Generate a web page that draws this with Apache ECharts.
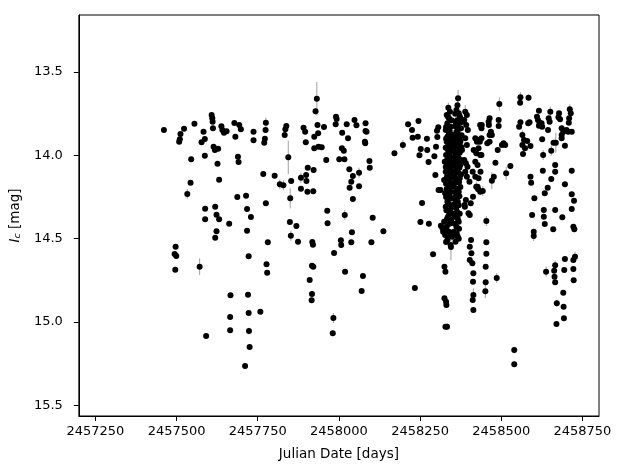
<!DOCTYPE html>
<html>
<head>
<meta charset="utf-8">
<script src="https://cdn.jsdelivr.net/npm/echarts@6/dist/echarts.min.js"></script>
<style>
  html, body { margin: 0; padding: 0; background: #fff; }
  #chart { width: 623px; height: 468px; }
</style>
</head>
<body>
<div id="chart"></div>
<script>
// [julian date, Ic magnitude, error] -- error left out where the bar hides behind the dot
const season2016 = [
  [2457461, 13.848], [2457512, 13.872], [2457510, 13.904], [2457508, 13.918], [2457523, 13.84],
  [2457555, 13.81], [2457583, 13.858], [2457577, 13.922], [2457587, 13.902], [2457608, 13.758],
  [2457610, 13.778], [2457611, 13.798], [2457612, 13.838], [2457638, 13.826], [2457641, 13.848],
  [2457646, 13.864], [2457654, 13.856], [2457678, 13.806], [2457681, 13.888], [2457614, 13.948],
  [2457618, 13.968], [2457628, 13.96], [2457545, 14.024], [2457587, 14.002], [2457626, 14.05],
  [2457689, 14.008], [2457691, 14.04], [2457543, 14.164], [2457533, 14.232, 0.03], [2457631, 14.146],
  [2457687, 14.25], [2457588, 14.32], [2457619, 14.308], [2457588, 14.384], [2457623, 14.356],
  [2457631, 14.384], [2457662, 14.41], [2457623, 14.456], [2457619, 14.494], [2457497, 14.548],
  [2457494, 14.592], [2457499, 14.604], [2457496, 14.686], [2457571, 14.668, 0.05], [2457666, 14.84],
  [2457665, 14.97], [2457665, 15.05], [2457591, 15.084], [2457693, 13.818], [2457698, 13.844],
  [2457714, 14.242], [2457717, 14.322], [2457729, 14.37], [2457717, 14.452], [2457722, 14.606],
  [2457720, 14.836], [2457722, 14.946], [2457723, 15.054, 0.02], [2457725, 15.15], [2457711, 15.264],
  [2457737, 13.858], [2457737, 13.91]
];

const season2017 = [
  [2457775, 13.804, 0.03], [2457774, 13.848], [2457772, 13.9], [2457770, 13.924], [2457838, 13.824],
  [2457835, 13.844], [2457833, 13.878], [2457891, 13.834], [2457896, 13.858], [2457898, 13.922],
  [2457924, 13.888], [2457924, 13.958], [2457928, 13.736, 0.02], [2457932, 13.66, 0.1], [2457934, 13.818],
  [2457936, 13.868], [2457937, 13.948], [2457767, 14.112], [2457802, 14.122], [2457818, 14.174, 0.03],
  [2457829, 14.18, 0.03], [2457844, 14.012, 0.1], [2457853, 14.154], [2457850, 14.258, 0.06], [2457883, 14.134, 0.03],
  [2457899, 14.118], [2457904, 14.074], [2457900, 14.154], [2457883, 14.2], [2457903, 14.218],
  [2457921, 14.216], [2457922, 14.088], [2457775, 14.288], [2457781, 14.522], [2457849, 14.4],
  [2457869, 14.424], [2457852, 14.482, 0.03], [2457874, 14.518], [2457918, 14.52], [2457920, 14.536],
  [2457777, 14.654], [2457779, 14.704], [2457917, 14.662], [2457921, 14.668], [2457910, 14.748],
  [2457917, 14.832], [2457916, 14.87], [2457758, 14.938], [2457947, 13.952], [2457954, 13.83],
  [2457961, 14.028], [2457991, 13.768], [2457993, 13.782], [2457990, 13.814], [2458024, 13.814],
  [2458010, 13.864], [2458028, 13.898], [2458048, 13.788], [2458054, 13.82], [2458082, 13.808],
  [2458082, 13.854], [2458085, 13.858], [2458080, 13.918], [2458081, 13.928], [2458009, 13.958],
  [2458015, 13.972], [2458001, 14.024], [2458017, 14.024], [2458032, 14.084], [2458043, 14.124],
  [2458062, 14.104, 0.03], [2458038, 14.158], [2458033, 14.194], [2458062, 14.186], [2458043, 14.262],
  [2458094, 14.034], [2458095, 14.074], [2457964, 14.332], [2457965, 14.408], [2458018, 14.358, 0.03],
  [2458104, 14.374], [2458137, 14.456], [2458040, 14.462], [2458038, 14.522], [2458006, 14.51],
  [2458007, 14.538], [2458100, 14.522], [2457985, 14.586], [2458019, 14.698], [2458074, 14.724],
  [2458070, 14.814], [2457983, 14.976, 0.03], [2457981, 15.068]
];

const season2018 = [
  [2458171, 13.988], [2458197, 13.938, 0.03], [2458213, 13.814], [2458225, 13.848], [2458227, 13.894],
  [2458243, 13.888], [2458245, 13.794], [2458252, 13.962], [2458248, 14.0], [2458272, 13.968],
  [2458271, 13.9], [2458276, 14.04], [2458294, 14.006], [2458299, 13.948], [2458303, 13.89],
  [2458302, 13.852], [2458306, 13.832], [2458297, 14.118], [2458307, 14.208], [2458313, 14.208],
  [2458256, 14.286], [2458251, 14.4], [2458277, 14.41], [2458290, 14.594], [2458234, 14.796],
  [2458314, 14.422], [2458321, 14.458],
  // the crowded stretch around JD 2458320-2458440
  [2458337, 13.714, 0.03], [2458332, 13.758], [2458339, 13.778], [2458334, 13.808], [2458344, 13.828],
  [2458329, 13.848], [2458339, 13.868], [2458334, 13.888], [2458346, 13.898], [2458332, 13.918],
  [2458341, 13.938], [2458349, 13.948], [2458336, 13.968], [2458330, 13.998], [2458344, 14.008],
  [2458338, 14.028], [2458326, 14.038], [2458334, 14.058], [2458344, 14.078], [2458329, 14.098],
  [2458339, 14.118], [2458349, 14.128], [2458324, 14.148], [2458336, 14.162], [2458344, 14.182],
  [2458332, 14.202], [2458327, 14.228], [2458339, 14.238], [2458349, 14.258], [2458334, 14.278],
  [2458329, 14.308], [2458342, 14.328], [2458349, 14.348], [2458336, 14.368], [2458324, 14.398],
  [2458344, 14.408], [2458332, 14.428], [2458319, 14.438], [2458339, 14.458], [2458327, 14.478],
  [2458349, 14.488], [2458334, 14.508], [2458344, 14.538], [2458345, 14.55, 0.08],
  [2458342, 13.738], [2458336, 13.768], [2458347, 13.79], [2458330, 13.83], [2458341, 13.852],
  [2458347, 13.875], [2458330, 13.9], [2458343, 13.91], [2458337, 13.93], [2458329, 13.955],
  [2458345, 13.975], [2458340, 13.99], [2458348, 14.02], [2458333, 14.03], [2458340, 14.045],
  [2458347, 14.06], [2458329, 14.07], [2458339, 14.09], [2458346, 14.105], [2458333, 14.125],
  [2458342, 14.145], [2458330, 14.17], [2458348, 14.17], [2458340, 14.195], [2458335, 14.215],
  [2458346, 14.22], [2458330, 14.25], [2458342, 14.26], [2458337, 14.29], [2458347, 14.3],
  [2458331, 14.33], [2458340, 14.35], [2458333, 14.38], [2458346, 14.385], [2458340, 14.41],
  [2458329, 14.45], [2458346, 14.47], [2458337, 14.49], [2458330, 14.52],
  [2458367, 13.658, 0.05], [2458362, 13.728], [2458369, 13.748], [2458374, 13.778], [2458359, 13.798],
  [2458366, 13.818], [2458376, 13.838], [2458362, 13.858], [2458369, 13.888], [2458356, 13.908],
  [2458374, 13.918], [2458364, 13.948], [2458379, 13.968], [2458359, 13.988], [2458369, 14.018],
  [2458354, 14.038], [2458374, 14.058], [2458364, 14.088], [2458356, 14.118], [2458372, 14.138],
  [2458362, 14.162], [2458354, 14.188], [2458369, 14.218], [2458359, 14.248], [2458366, 14.278],
  [2458354, 14.308], [2458364, 14.338], [2458356, 14.368], [2458369, 14.398], [2458362, 14.428],
  [2458354, 14.458], [2458366, 14.488], [2458359, 14.518],
  [2458365, 13.7, 0.03], [2458358, 13.75], [2458372, 13.765], [2458364, 13.79], [2458378, 13.8],
  [2458358, 13.825], [2458371, 13.84], [2458366, 13.87], [2458378, 13.88], [2458360, 13.89],
  [2458371, 13.905], [2458357, 13.93], [2458368, 13.935], [2458377, 13.95], [2458361, 13.965],
  [2458372, 13.985], [2458365, 14.0], [2458357, 14.015], [2458378, 14.03], [2458366, 14.045],
  [2458360, 14.065], [2458371, 14.075], [2458357, 14.095], [2458368, 14.105], [2458376, 14.115],
  [2458360, 14.14], [2458370, 14.16], [2458357, 14.165], [2458365, 14.2], [2458374, 14.19],
  [2458359, 14.22], [2458371, 14.245], [2458362, 14.27], [2458357, 14.29], [2458369, 14.3],
  [2458361, 14.315], [2458372, 14.35], [2458359, 14.35], [2458366, 14.38], [2458357, 14.41],
  [2458370, 14.44], [2458363, 14.47], [2458369, 14.5],
  [2458389, 13.738, 0.04], [2458394, 13.758], [2458386, 13.788], [2458392, 13.818], [2458397, 13.848],
  [2458389, 13.898], [2458394, 13.938], [2458386, 14.028], [2458391, 14.048], [2458396, 14.068],
  [2458389, 14.098], [2458394, 14.128], [2458402, 14.158], [2458387, 14.298], [2458399, 14.348],
  [2458391, 14.268], [2458388, 14.308], [2458406, 14.288], [2458413, 14.248], [2458403, 14.358],
  [2458435, 13.818], [2458420, 13.898], [2458425, 13.918], [2458415, 13.968], [2458423, 13.988],
  [2458430, 13.958], [2458435, 13.998], [2458420, 14.038], [2458427, 14.058], [2458412, 14.098],
  [2458420, 14.128], [2458430, 14.138], [2458423, 14.188, 0.03], [2458435, 14.218],
  [2458325, 14.668], [2458328, 14.698], [2458325, 14.858], [2458330, 14.878], [2458331, 14.898],
  [2458328, 15.028], [2458333, 15.028, 0.02],
  [2458407, 14.508], [2458403, 14.548], [2458408, 14.588], [2458403, 14.628], [2458411, 14.648],
  [2458414, 14.708], [2458413, 14.758], [2458414, 14.838, 0.04], [2458412, 14.868], [2458414, 14.928],
  // after the crowded stretch
  [2458494, 13.692, 0.04], [2458492, 13.788], [2458492, 13.824], [2458464, 13.778], [2458461, 13.798],
  [2458462, 13.818], [2458440, 13.818], [2458439, 13.838], [2458468, 13.858], [2458471, 13.878],
  [2458464, 13.878], [2458429, 13.908], [2458439, 13.898], [2458434, 13.918], [2458457, 13.928],
  [2458464, 13.918], [2458439, 13.998], [2458507, 13.928], [2458512, 13.938], [2458502, 13.938],
  [2458489, 13.968], [2458482, 14.044], [2458477, 14.128], [2458471, 14.152, 0.05], [2458515, 14.108, 0.04],
  [2458528, 14.064], [2458436, 14.098], [2458427, 14.188], [2458429, 14.204], [2458443, 14.214, 0.03],
  [2458454, 14.394, 0.03], [2458454, 14.522], [2458454, 14.59], [2458452, 14.668], [2458452, 14.762],
  [2458451, 14.816, 0.04], [2458486, 14.736, 0.03], [2458540, 15.168, 0.02], [2458540, 15.254]
];

const season2019 = [
  [2458559, 13.652, 0.03], [2458558, 13.684], [2458584, 13.654, 0.02], [2458559, 13.802], [2458555, 13.828],
  [2458583, 13.808], [2458587, 13.802], [2458565, 13.878, 0.03], [2458570, 13.908], [2458580, 13.914],
  [2458565, 13.938], [2458573, 13.958], [2458567, 13.992], [2458590, 13.944], [2458616, 13.732],
  [2458610, 13.768], [2458613, 13.788], [2458618, 13.804], [2458616, 13.822], [2458624, 13.808],
  [2458626, 13.828], [2458651, 13.738, 0.03], [2458646, 13.778], [2458649, 13.798], [2458644, 13.848],
  [2458626, 13.904], [2458629, 13.998, 0.03], [2458654, 13.972, 0.03], [2458661, 13.924], [2458668, 13.924, 0.06],
  [2458678, 13.748], [2458676, 13.772], [2458681, 13.784], [2458686, 13.838], [2458691, 13.858],
  [2458686, 13.878], [2458701, 13.848], [2458706, 13.858], [2458711, 13.724, 0.03], [2458714, 13.748],
  [2458709, 13.778], [2458708, 13.804], [2458717, 13.858], [2458696, 13.942], [2458686, 13.898],
  [2458666, 14.058], [2458666, 14.098], [2458628, 14.092], [2458590, 14.128], [2458592, 14.164],
  [2458654, 14.142], [2458643, 14.194], [2458634, 14.228], [2458717, 14.092], [2458696, 14.174],
  [2458717, 14.234], [2458724, 14.272], [2458717, 14.322], [2458602, 14.258], [2458595, 14.358],
  [2458631, 14.328], [2458631, 14.368], [2458634, 14.412], [2458666, 14.328], [2458688, 14.372],
  [2458660, 14.444], [2458722, 14.428], [2458725, 14.444], [2458600, 14.458], [2458600, 14.484, 0.03],
  [2458696, 14.622], [2458694, 14.688], [2458722, 14.628], [2458727, 14.608, 0.03], [2458722, 14.682],
  [2458666, 14.66, 0.03], [2458663, 14.692], [2458664, 14.728], [2458666, 14.762], [2458638, 14.698, 0.03],
  [2458723, 14.75], [2458691, 14.824], [2458671, 14.888, 0.02], [2458692, 14.908], [2458693, 14.978],
  [2458670, 15.012]
];

const xTicks = [2457250, 2457500, 2457750, 2458000, 2458250, 2458500, 2458750];
const yTicks = [13.5, 14.0, 14.5, 15.0, 15.5];
const defaultError = 0.012;

const points = season2016.concat(season2017, season2018, season2019);
const markData = points.map(p => [p[0], p[1]]);
const errorData = points.map(p => {
  const e = p[2] || defaultError;
  return [p[0], p[1] - e, p[1] + e];
});

const textStyle = { color: '#000', fontFamily: 'DejaVu Sans', fontSize: 13 };

const chart = echarts.init(document.getElementById('chart'), null, { renderer: 'canvas' });
chart.setOption({
  animation: false,
  backgroundColor: '#fff',
  grid: {
    left: 71, right: 24, top: 15, bottom: 52,
    show: true, borderColor: '#000', borderWidth: 1, backgroundColor: 'transparent',
  },
  xAxis: {
    type: 'value',
    min: 2457199,
    max: 2458801,
    name: 'Julian Date [days]',
    nameLocation: 'middle',
    nameGap: 31,
    nameTextStyle: { ...textStyle, fontSize: 13.5 },
    axisLine: { show: true, onZero: false, lineStyle: { color: '#000', width: 1 } },
    axisTick: { show: true, length: 5, customValues: xTicks, lineStyle: { color: '#000' } },
    axisLabel: { ...textStyle, margin: 9, customValues: xTicks, formatter: v => String(v) },
    splitLine: { show: false },
  },
  yAxis: {
    type: 'value',
    inverse: true,
    min: 13.158,
    max: 15.564,
    name: '{i|I}{s|c}{t| [mag]}',
    nameLocation: 'middle',
    nameGap: 47,
    nameRotate: 90,
    nameTextStyle: {
      ...textStyle,
      rich: {
        i: { ...textStyle, fontSize: 13.5, fontStyle: 'italic' },
        s: { ...textStyle, fontSize: 9.5, fontStyle: 'italic', padding: [6, 0, 0, 0] },
        t: { ...textStyle, fontSize: 13.5 },
      },
    },
    axisLine: { show: true, onZero: false, lineStyle: { color: '#000', width: 1 } },
    axisTick: { show: true, length: 5, customValues: yTicks, lineStyle: { color: '#000' } },
    axisLabel: { ...textStyle, margin: 16, customValues: yTicks, formatter: v => v.toFixed(1) },
    splitLine: { show: false },
  },
  series: [
    {
      name: 'error',
      type: 'custom',
      silent: true,
      clip: true,
      data: errorData,
      encode: { x: 0, y: [1, 2] },
      renderItem(params, api) {
        const lo = api.coord([api.value(0), api.value(1)]);
        const hi = api.coord([api.value(0), api.value(2)]);
        return {
          type: 'line',
          shape: { x1: lo[0], y1: lo[1], x2: hi[0], y2: hi[1] },
          style: { stroke: '#a0a0a0', lineWidth: 1 },
        };
      },
      z: 2,
    },
    {
      name: 'Ic',
      type: 'scatter',
      data: markData,
      symbol: 'circle',
      symbolSize: 6,
      itemStyle: { color: '#000', opacity: 1 },
      z: 3,
    },
  ],
});
</script>
</body>
</html>
